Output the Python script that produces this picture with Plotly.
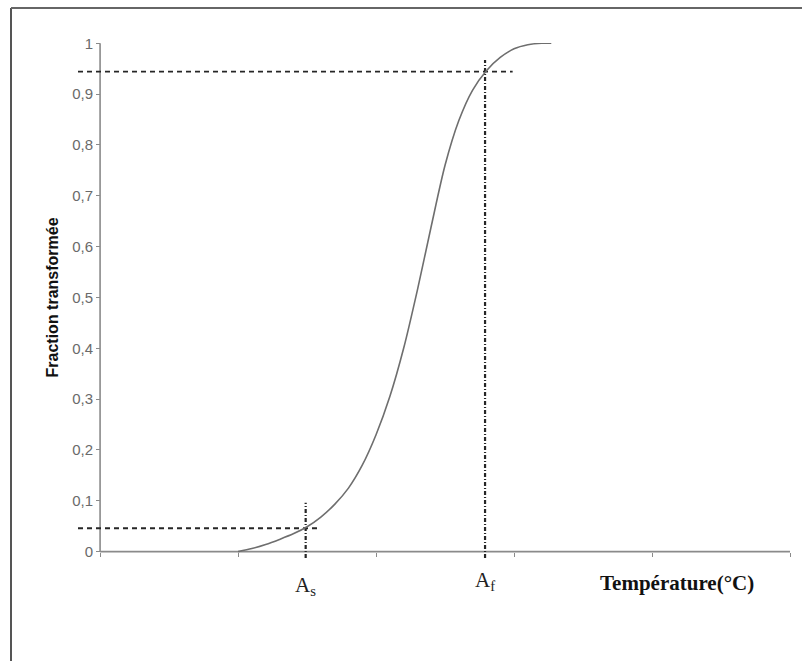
import plotly.graph_objects as go

# Transformation curve (temperature in arbitrary axis units, fraction 0..1)
temperature = [1.0, 1.1, 1.2, 1.3, 1.4, 1.5, 1.6, 1.7, 1.8, 1.9, 2.0, 2.1,
               2.2, 2.3, 2.4, 2.5, 2.6, 2.7, 2.8, 2.9, 3.0, 3.1, 3.2, 3.27]
fraction = [0.000, 0.006, 0.014, 0.024, 0.035, 0.049, 0.068, 0.093, 0.125, 0.170,
            0.230, 0.305, 0.400, 0.515, 0.640, 0.760, 0.848, 0.908, 0.946, 0.972,
            0.989, 0.997, 1.000, 1.000]

# Start / finish temperatures and the matching fractions
a_s, a_f = 1.49, 2.79
frac_s, frac_f = 0.046, 0.944
top_s, top_f = 0.096, 0.967

x_ticks = [0, 1, 2, 3, 4, 5]
x_min, x_max = -0.16, 5.0
y_min, y_max = -0.0125, 1.0

axis_col = "#8a8a8a"
ref_col = "#262626"

fig = go.Figure()

# horizontal dashed guides from the left edge to each crossing
fig.add_trace(go.Scatter(x=[x_min, 2.99], y=[frac_f, frac_f], mode="lines",
                         line=dict(color=ref_col, width=1.8, dash="5px,4px"),
                         hoverinfo="skip"))
fig.add_trace(go.Scatter(x=[x_min, 1.59], y=[frac_s, frac_s], mode="lines",
                         line=dict(color=ref_col, width=1.8, dash="5px,4px"),
                         hoverinfo="skip"))
# vertical dash-dot guides at As and Af
fig.add_trace(go.Scatter(x=[a_s, a_s], y=[y_min, top_s], mode="lines",
                         line=dict(color=ref_col, width=2.2, dash="4px,2px,1px,2px"),
                         hoverinfo="skip"))
fig.add_trace(go.Scatter(x=[a_f, a_f], y=[y_min, top_f], mode="lines",
                         line=dict(color=ref_col, width=2.2, dash="4px,2px,1px,2px"),
                         hoverinfo="skip"))

# transformed fraction curve
fig.add_trace(go.Scatter(x=temperature, y=fraction, mode="lines",
                         line=dict(color="#6e6e6e", width=1.6, shape="spline", smoothing=0.8),
                         hoverinfo="skip"))

shapes = [
    # axis lines drawn only over the data extent
    dict(type="line", xref="x", yref="y", x0=0, x1=x_max, y0=0, y1=0,
         line=dict(color=axis_col, width=1.6), layer="below"),
    dict(type="line", xref="x", yref="y", x0=0, x1=0, y0=0, y1=1,
         line=dict(color=axis_col, width=1.6), layer="below"),
    # outer frame (left and top edges)
    dict(type="line", xref="paper", yref="paper", x0=-0.0941, x1=-0.0941, y0=-0.3, y1=1.068,
         line=dict(color="#555555", width=2)),
    dict(type="line", xref="paper", yref="paper", x0=-0.0941, x1=1.1, y0=1.068, y1=1.068,
         line=dict(color="#666666", width=2)),
]

annotations = [
    dict(text="<b>Fraction transformée</b>", xref="paper", yref="y", x=-0.0365, y=0.5,
         textangle=-90, showarrow=False, xanchor="center", yanchor="middle",
         font=dict(family="Liberation Sans, Arial", size=16, color="#111111")),
    dict(text="A<sub>s</sub>", xref="x", yref="paper", x=a_s, y=-0.055,
         showarrow=False, xanchor="center", yanchor="middle",
         font=dict(family="Liberation Serif, Times New Roman", size=21, color="#222222")),
    dict(text="A<sub>f</sub>", xref="x", yref="paper", x=a_f, y=-0.045,
         showarrow=False, xanchor="center", yanchor="middle",
         font=dict(family="Liberation Serif, Times New Roman", size=21, color="#222222")),
    dict(text="<b>Température(°C)</b>", xref="paper", yref="paper", x=0.841, y=-0.0485,
         showarrow=False, xanchor="center", yanchor="middle",
         font=dict(family="Liberation Serif, Times New Roman", size=21, color="#111111")),
]

fig.update_layout(
    width=802, height=661,
    margin=dict(l=78, r=12, t=43, b=103, autoexpand=False),
    paper_bgcolor="white", plot_bgcolor="white",
    showlegend=False,
    separators=", ",
    shapes=shapes,
    annotations=annotations,
    xaxis=dict(range=[x_min, x_max], tickvals=x_ticks, showticklabels=False,
               ticks="outside", ticklen=4, tickwidth=1.2, tickcolor=axis_col,
               showgrid=False, zeroline=False, showline=False,
               anchor="free", position=(0 - y_min) / (y_max - y_min)),
    yaxis=dict(range=[y_min, y_max + 0.0005], tick0=0, dtick=0.1,
               ticks="outside", ticklen=4, tickwidth=1.2, tickcolor=axis_col,
               tickfont=dict(family="Liberation Sans, Arial", size=15, color="#6a6a6a"),
               showgrid=False, zeroline=False, showline=False,
               anchor="free", position=(0 - x_min) / (x_max - x_min)),
)

fig.write_html("out.html")
